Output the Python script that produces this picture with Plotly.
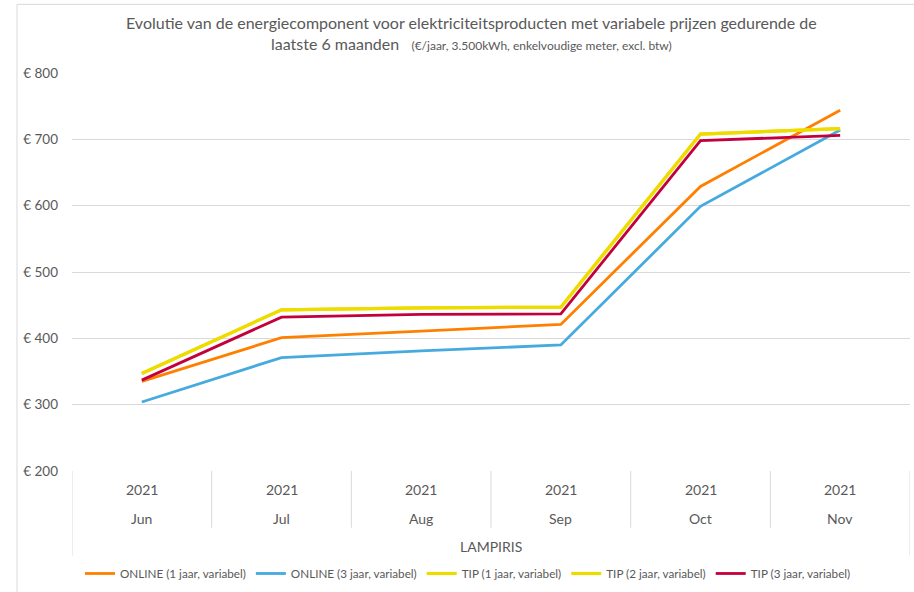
import plotly.graph_objects as go

# Maanden (categorie-as) en jaar-label per maand
months = ["Jun", "Jul", "Aug", "Sep", "Oct", "Nov"]
years = ["2021", "2021", "2021", "2021", "2021", "2021"]
supplier = "LAMPIRIS"

# Energiecomponent (€/jaar) per product
online_1 = [335, 401, 411, 421, 629, 744]
online_3 = [304, 371, 381, 390, 599, 714]
tip_1 = [347, 443, 446, 447, 708, 716]
tip_2 = [347, 443, 446, 447, 708, 716]
tip_3 = [337, 432, 436, 437, 698, 706]

series = [
    ("ONLINE (1 jaar, variabel)", online_1, "#FF8000", 2.8),
    ("ONLINE (3 jaar, variabel)", online_3, "#46AADF", 2.8),
    ("TIP (1 jaar, variabel)", tip_1, "#EEDC00", 3.2),
    ("TIP (2 jaar, variabel)", tip_2, "#EEDC00", 3.2),
    ("TIP (3 jaar, variabel)", tip_3, "#C4003C", 2.8),
]

FONT = "Lato"
GREY = "#595959"
LINE = "#D9D9D9"

fig = go.Figure()
for name, vals, color, w in series:
    fig.add_trace(go.Scatter(
        x=months, y=vals, name=name, mode="lines",
        line=dict(color=color, width=w),
    ))

# Plot area spans 72..910 px horizontally, 73..473 px vertically
L, R, T, B = 72, 4, 73, 119
H = 592 - T - B


def py(pixel_y):
    """Pixel row -> paper coordinate."""
    return (592 - B - pixel_y) / H


shapes = []
# category table: dividers between months
for i in range(7):
    bottom = 558 if i in (0, 6) else 530
    shapes.append(dict(type="line", xref="x", yref="paper",
                       x0=i - 0.5, x1=i - 0.5, y0=0, y1=py(bottom),
                       line=dict(color=LINE, width=1)))
# outer chart frame (left and top edges)
shapes.append(dict(type="line", xref="paper", yref="paper",
                   x0=(17 - L) / 838, x1=(916 - L) / 838, y0=py(4), y1=py(4),
                   line=dict(color=LINE, width=1)))
shapes.append(dict(type="line", xref="paper", yref="paper",
                   x0=(17 - L) / 838, x1=(17 - L) / 838, y0=py(4), y1=py(600),
                   line=dict(color=LINE, width=1)))

annotations = []
for m, yv in zip(months, years):
    annotations.append(dict(x=m, xref="x", y=py(492), yref="paper", text=yv,
                            yanchor="middle", showarrow=False,
                            font=dict(size=14, color=GREY, family=FONT)))
    annotations.append(dict(x=m, xref="x", y=py(521), yref="paper", text=m,
                            yanchor="middle", showarrow=False,
                            font=dict(size=14, color=GREY, family=FONT)))
annotations.append(dict(x=0.5, xref="paper", y=py(549), yref="paper", text=supplier,
                        yanchor="middle", showarrow=False,
                        font=dict(size=14, color=GREY, family=FONT)))
annotations.append(dict(
    x=(471 - L) / 838, xref="paper", y=py(33), yref="paper", yanchor="middle",
    text=("Evolutie van de energiecomponent voor elektriciteitsproducten met variabele prijzen gedurende de"
          "<br>laatste 6 maanden   <span style='font-size:12px'>(€/jaar, 3.500kWh, enkelvoudige meter, excl. btw)</span>"),
    showarrow=False, align="center", font=dict(size=16, color=GREY, family=FONT),
))

fig.update_layout(
    width=914, height=592,
    margin=dict(l=L, r=R, t=T, b=B),
    paper_bgcolor="white", plot_bgcolor="white",
    font=dict(family=FONT, color=GREY),
    shapes=shapes, annotations=annotations,
    legend=dict(orientation="h", x=(80 - L) / 838, xanchor="left",
                y=py(576), yanchor="middle",
                font=dict(size=11.7, color=GREY, family=FONT),
                itemwidth=30, tracegroupgap=0),
)
fig.update_xaxes(type="category", range=[-0.5, 5.5], showticklabels=False,
                 showgrid=False, zeroline=False, showline=False)
fig.update_yaxes(range=[200, 800], dtick=100, tickprefix="€ ",
                 showgrid=True, gridcolor=LINE, gridwidth=1, zeroline=False,
                 ticks="", ticklabelstandoff=13,
                 tickfont=dict(size=13.5, color=GREY, family=FONT))

fig.write_html("out.html")
